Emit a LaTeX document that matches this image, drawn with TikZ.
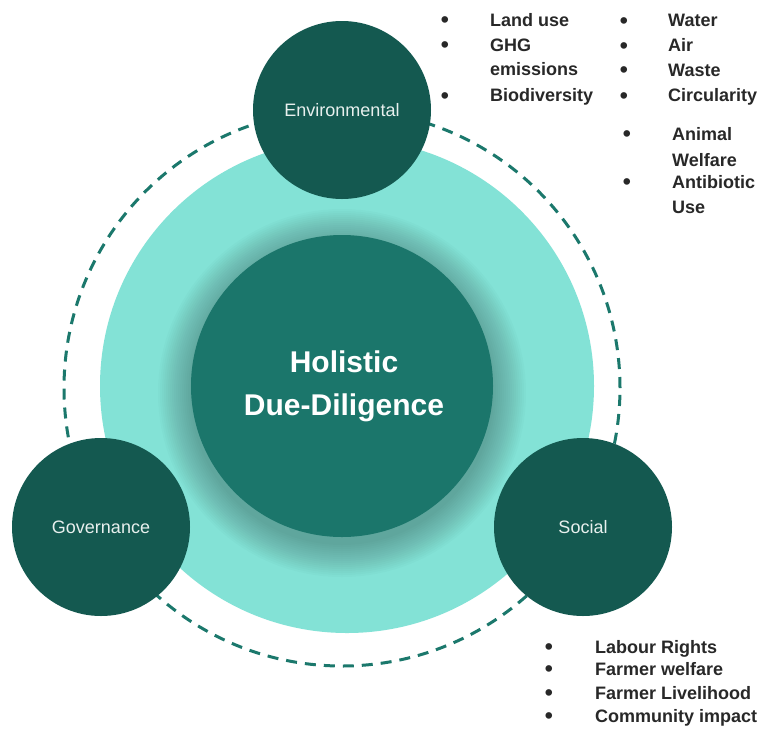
\documentclass[tikz,border=0pt]{standalone}
\usepackage{fontspec}
\setmainfont{Liberation Sans}
\definecolor{satfill}{RGB}{20,89,80}
\definecolor{hubfill}{RGB}{27,118,107}
\definecolor{fieldfill}{RGB}{131,226,214}
\definecolor{ringline}{RGB}{27,120,108}
\definecolor{satlabel}{RGB}{232,240,238}
\definecolor{itemtext}{RGB}{40,40,40}
\begin{document}
\begin{tikzpicture}[x=1pt,y=-1pt,
  sat/.style={circle, fill=satfill, minimum size=178pt, inner sep=0pt,
    text=satlabel, font=\fontsize{18}{20}\selectfont},
  hub/.style={circle, fill=hubfill, minimum size=302pt, inner sep=0pt},
  hubtext/.style={anchor=base, inner sep=0pt, text=white,
    font=\bfseries\fontsize{30}{36}\selectfont},
  item/.style={anchor=base west, inner sep=0pt, text=itemtext,
    font=\bfseries\fontsize{18}{20}\selectfont},
  dot/.style={anchor=base, inner sep=0pt, text=itemtext, yshift=-1.5pt,
    font=\bfseries\fontsize{23}{24}\selectfont},
  ring/.style={draw=ringline, line width=3pt, dash pattern=on 11pt off 8pt},
]
% canvas
\fill[white] (0,0) rectangle (763,729);
\useasboundingbox (0,0) rectangle (763,729);

\coordinate (C) at (342,388);

% dashed orbit through the three pillars
\draw[ring] (C) circle (278pt);

% light field
\fill[fieldfill] (347,386) circle (247pt);

% soft shadow under the hub
\coordinate (sh) at (342,393);
\foreach \r in {152,154,...,184}
  \fill[black, opacity=0.015] (sh) circle (\r pt);

% hub
\node[hub] (hub) at (342,386) {};
\node[hubtext] (hubA) at (344,372) {Holistic};
\node[hubtext] (hubB) at (344,415) {Due-Diligence};

% pillars
\node[sat] (env) at (342,110) {Environmental};
\node[sat] (gov) at (101,527) {Governance};
\node[sat] (soc) at (583,527) {Social};

% environmental topics, first column
\node[dot]  (e1d) at (445,26)   {\textbullet};
\node[item] (e1)  at (490,26)   {Land use};
\node[dot]  (e2d) at (445,51)   {\textbullet};
\node[item] (e2)  at (490,51)   {GHG};
\node[item] (e2b) at (490,75.5) {emissions};
\node[dot]  (e3d) at (445,101.5){\textbullet};
\node[item] (e3)  at (490,101.5){Biodiversity};

% environmental topics, second column
\node[dot]  (w1d) at (624,26.5) {\textbullet};
\node[item] (w1)  at (668,26.5) {Water};
\node[dot]  (w2d) at (624,51.5) {\textbullet};
\node[item] (w2)  at (668,51.5) {Air};
\node[dot]  (w3d) at (624,76)   {\textbullet};
\node[item] (w3)  at (668,76)   {Waste};
\node[dot]  (w4d) at (624,101.5){\textbullet};
\node[item] (w4)  at (668,101.5){Circularity};

\node[dot]  (a1d) at (627,140)  {\textbullet};
\node[item] (a1)  at (672,140)  {Animal};
\node[item] (a1b) at (672,166)  {Welfare};
\node[dot]  (a2d) at (627,188)  {\textbullet};
\node[item] (a2)  at (672,188)  {Antibiotic};
\node[item] (a2b) at (672,213)  {Use};

% social topics
\node[dot]  (s1d) at (549,653)  {\textbullet};
\node[item] (s1)  at (595,653)  {Labour Rights};
\node[dot]  (s2d) at (549,675)  {\textbullet};
\node[item] (s2)  at (595,675)  {Farmer welfare};
\node[dot]  (s3d) at (549,699)  {\textbullet};
\node[item] (s3)  at (595,699)  {Farmer Livelihood};
\node[dot]  (s4d) at (549,722)  {\textbullet};
\node[item] (s4)  at (595,722)  {Community impact};
\end{tikzpicture}
\end{document}
